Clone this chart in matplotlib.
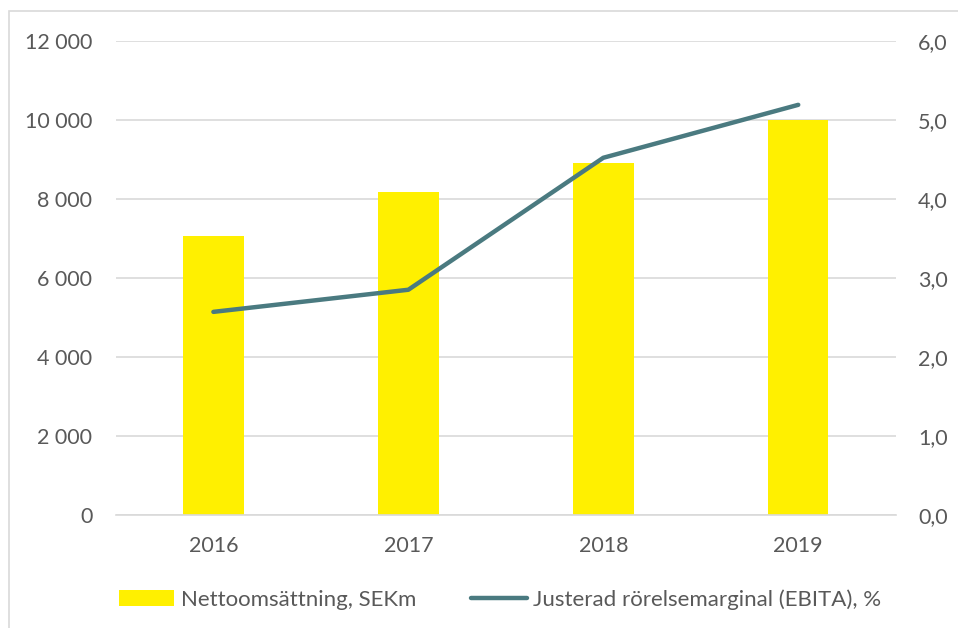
import matplotlib.pyplot as plt
from matplotlib.patches import Rectangle
from matplotlib.ticker import FuncFormatter

plt.rcParams['font.family'] = ['Lato', 'DejaVu Sans']

years = ["2016", "2017", "2018", "2019"]
net_sales = [7060, 8180, 8910, 10000]
ebita_margin = [2.57, 2.85, 4.52, 5.19]

fig = plt.figure(figsize=(9.58, 6.28), dpi=100)
ax = fig.add_axes([0.121, 0.180, 0.814, 0.755])
ax2 = ax.twinx()

text_col = "#595959"
x = range(len(years))

ax.bar(x, net_sales, width=0.31, color="#FFF000", label="Nettoomsättning, SEKm", zorder=2)
ax2.plot(x, ebita_margin, color="#4A7A80", lw=3.2, solid_capstyle="round",
         label="Justerad rörelsemarginal (EBITA), %", zorder=3)

ax.set_xlim(-0.5, 3.5)
ax.set_ylim(0, 12000)
ax2.set_ylim(0, 6)
ax.set_yticks(range(0, 12001, 2000))
ax2.set_yticks(range(0, 7))
ax.yaxis.set_major_formatter(FuncFormatter(lambda v, p: f"{int(v):,}".replace(",", " ")))
ax2.yaxis.set_major_formatter(FuncFormatter(lambda v, p: f"{v:.1f}".replace(".", ",")))
ax.set_xticks(list(x))
ax.set_xticklabels(years)

ax.grid(axis="y", color="#D9D9D9", lw=1.2, zorder=0)
ax.set_axisbelow(True)
for a in (ax, ax2):
    for s in a.spines.values():
        s.set_visible(False)
    a.tick_params(length=0, labelsize=15.5, colors=text_col)
ax.spines["bottom"].set_visible(True)
ax.spines["bottom"].set_color("#D9D9D9")
ax.spines["bottom"].set_linewidth(1.2)
ax.tick_params(axis="y", pad=17)
ax2.tick_params(axis="y", pad=16)
ax.tick_params(axis="x", pad=15)
ax.set_zorder(ax2.get_zorder() - 1)
ax2.patch.set_visible(False)

h1, l1 = ax.get_legend_handles_labels()
h2, l2 = ax2.get_legend_handles_labels()
fig.legend(h1 + h2, l1 + l2, loc="center", bbox_to_anchor=(0.522, 0.045), ncol=2,
           frameon=False, fontsize=16, labelcolor=text_col, columnspacing=2.5,
           handlelength=2.5, handletextpad=0.28)

fig.patches.append(Rectangle((0.009, -0.1), 1.2, 1.083, transform=fig.transFigure,
                             fill=False, edgecolor="#D9D9D9", lw=1.2))

fig.savefig("out.png", dpi=100)
